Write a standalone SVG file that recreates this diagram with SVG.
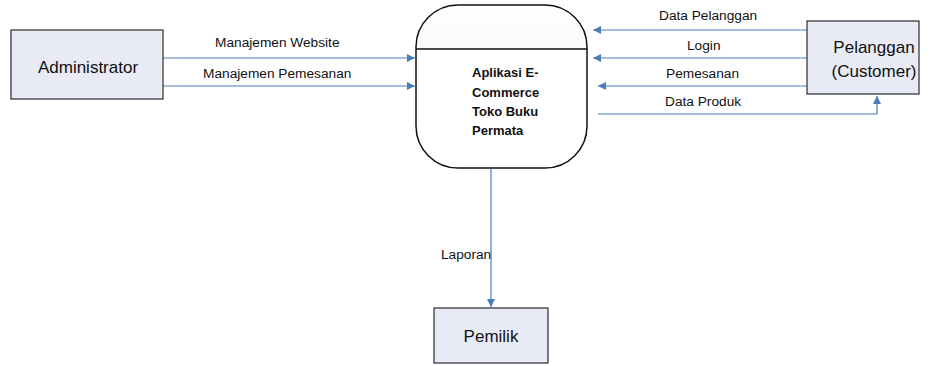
<svg xmlns="http://www.w3.org/2000/svg" width="937" height="366" viewBox="0 0 937 366">
<style>
.box{fill:#e8ebf6;stroke:#2b2b2b;stroke-width:1.2}
.ent{font-family:"Liberation Sans",Arial,sans-serif;font-size:17px;fill:#111;text-anchor:middle}
.lbl{font-family:"Liberation Sans",Arial,sans-serif;font-size:13.7px;fill:#111}
.proc{font-family:"Liberation Sans",Arial,sans-serif;font-size:13px;font-weight:bold;fill:#111}
.flow{fill:none;stroke:#4a7ebb;stroke-width:1.2}
</style>
<defs>
<marker id="ah" viewBox="0 0 10 10" refX="10" refY="5" markerWidth="11" markerHeight="8" markerUnits="userSpaceOnUse" orient="auto">
<path d="M0,0 L10,5 L0,10 z" fill="#4a7ebb"/>
</marker>
<linearGradient id="tg" x1="0" y1="0" x2="0" y2="1">
<stop offset="0" stop-color="#ffffff"/>
<stop offset="1" stop-color="#ecece4"/>
</linearGradient>
<clipPath id="topclip"><rect x="410" y="0" width="190" height="49"/></clipPath>
</defs>
<rect width="937" height="366" fill="#ffffff"/>
<g id="connectors">
<line class="flow" x1="163" y1="58" x2="415" y2="58" marker-end="url(#ah)"/>
<line class="flow" x1="163" y1="86" x2="415" y2="86" marker-end="url(#ah)"/>
<line class="flow" x1="807" y1="30" x2="593" y2="30" marker-end="url(#ah)"/>
<line class="flow" x1="807" y1="58" x2="593" y2="58" marker-end="url(#ah)"/>
<line class="flow" x1="807" y1="86" x2="598" y2="86" marker-end="url(#ah)"/>
<polyline class="flow" points="598,114 877,114 877,96" marker-end="url(#ah)"/>
<line class="flow" x1="491" y1="169" x2="491" y2="307" marker-end="url(#ah)"/>
<text class="lbl" x="215" y="47">Manajemen Website</text>
<text class="lbl" x="203" y="78">Manajemen Pemesanan</text>
<text class="lbl" x="659" y="20">Data Pelanggan</text>
<text class="lbl" x="687" y="50">Login</text>
<text class="lbl" x="666" y="78">Pemesanan</text>
<text class="lbl" x="665" y="106">Data Produk</text>
<text class="lbl" x="441" y="259">Laporan</text>
</g>
<g id="administrator">
<rect class="box" x="11" y="30" width="152" height="69"/>
<text class="ent" x="88" y="73">Administrator</text>
</g>
<g id="aplikasi">
<rect x="416" y="5" width="171" height="163" rx="42" ry="42" fill="#ffffff"/>
<rect x="416" y="5" width="171" height="163" rx="42" ry="42" fill="url(#tg)" clip-path="url(#topclip)"/>
<rect x="416" y="5" width="171" height="163" rx="42" ry="42" fill="none" stroke="#111" stroke-width="1.5"/>
<line x1="416" y1="49" x2="587" y2="49" stroke="#111" stroke-width="1.5"/>
<text class="proc" x="472" y="77">Aplikasi E-</text>
<text class="proc" x="472" y="97">Commerce</text>
<text class="proc" x="472" y="116">Toko  Buku</text>
<text class="proc" x="472" y="135">Permata</text>
</g>
<g id="pelanggan">
<rect class="box" x="807" y="21" width="112" height="73"/>
<text class="ent" x="874" y="53">Pelanggan</text>
<text class="ent" x="874" y="77">(Customer)</text>
</g>
<g id="pemilik">
<rect class="box" x="434" y="308" width="114" height="55"/>
<text class="ent" x="491" y="342">Pemilik</text>
</g>
</svg>
